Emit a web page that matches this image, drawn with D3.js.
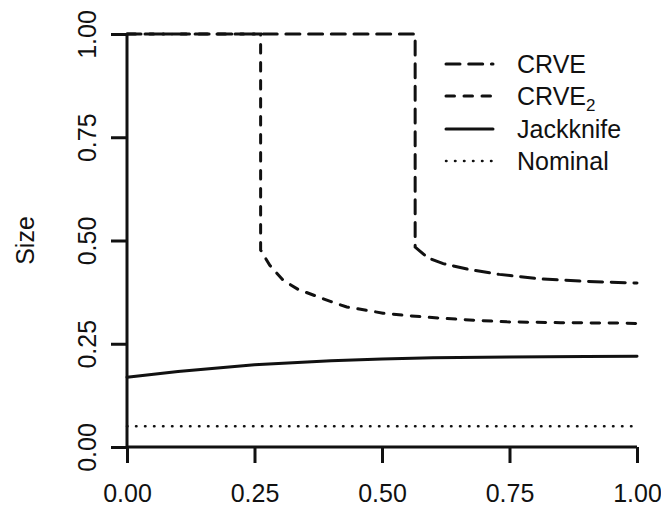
<!DOCTYPE html>
<html>
<head>
<meta charset="utf-8">
<script src="https://cdn.jsdelivr.net/npm/d3@7"></script>
<style>
  body { margin: 0; background: #fff; }
  text { font-family: "Liberation Sans", Arial, sans-serif; fill: #111; }
</style>
</head>
<body>
<div id="chart"></div>
<script>
// Data
var xTicks = [0, 0.25, 0.5, 0.75, 1];
var yTicks = [0, 0.25, 0.5, 0.75, 1];

var crveX = [0, 0.565, 0.565, 0.59, 0.62, 0.67, 0.73, 0.81, 0.9, 1.0];
var crveY = [1, 1, 0.484, 0.458, 0.444, 0.43, 0.418, 0.407, 0.401, 0.397];

var crve2X = [0, 0.262, 0.262, 0.28, 0.306, 0.335, 0.365, 0.4, 0.431, 0.47, 0.502, 0.55, 0.614, 0.68, 0.745, 0.85, 0.967, 1.0];
var crve2Y = [1, 1, 0.477, 0.44, 0.404, 0.382, 0.368, 0.352, 0.339, 0.331, 0.324, 0.318, 0.312, 0.307, 0.303, 0.301, 0.300, 0.299];

var jackX = [0, 0.1, 0.25, 0.4, 0.5, 0.6, 0.75, 0.9, 1.0];
var jackY = [0.169, 0.183, 0.199, 0.209, 0.213, 0.216, 0.218, 0.219, 0.22];

var nomX = [0, 1];
var nomY = [0.05, 0.05];

var seriesNames = ["CRVE", "CRVE2", "Jackknife", "Nominal"];

// Layout
var width = 661, height = 507;
var plot = { left: 127, right: 637, top: 34, bottom: 447 };
var ink = "#111";
var fontSize = "25px";

var svg = d3.select("#chart").append("svg")
    .attr("width", width)
    .attr("height", height);

var x = d3.scaleLinear().domain([0, 1]).range([plot.left, plot.right]);
var y = d3.scaleLinear().domain([0, 1]).range([plot.bottom, plot.top]);

// Axes
var xAxis = d3.axisBottom(x).tickValues(xTicks).tickFormat(d3.format(".2f")).tickSize(16);
var gx = svg.append("g")
    .attr("transform", "translate(0," + plot.bottom + ")")
    .call(xAxis);

var yAxis = d3.axisLeft(y).tickValues(yTicks).tickFormat(d3.format(".2f")).tickSize(16);
var gy = svg.append("g")
    .attr("transform", "translate(" + plot.left + ",0)")
    .call(yAxis);

[gx, gy].forEach(function (g) {
    g.select(".domain").remove();
    g.selectAll(".tick line").attr("stroke", ink).attr("stroke-width", 3);
    g.selectAll(".tick text").attr("fill", ink).style("font-size", fontSize)
        .style("font-family", "'Liberation Sans', Arial, sans-serif");
});

gx.selectAll(".tick text").attr("y", 55).attr("dy", 0);

gy.selectAll(".tick text")
    .attr("x", 0).attr("dy", 0)
    .attr("text-anchor", "middle")
    .attr("transform", "translate(-31,0) rotate(-90)");

// axis lines from data origin
svg.append("line")
    .attr("x1", x(0)).attr("x2", x(1))
    .attr("y1", y(0)).attr("y2", y(0))
    .attr("stroke", ink).attr("stroke-width", 3);
svg.append("line")
    .attr("x1", x(0)).attr("x2", x(0))
    .attr("y1", y(0)).attr("y2", y(1))
    .attr("stroke", ink).attr("stroke-width", 3);

// y axis title
svg.append("text")
    .attr("transform", "translate(34," + y(0.5) + ") rotate(-90)")
    .attr("text-anchor", "middle")
    .style("font-size", fontSize)
    .text("Size");

// Series
var styles = {
    "CRVE": "14,8.7",
    "CRVE2": "8.5,9.5",
    "Jackknife": null,
    "Nominal": "0.5,8.5"
};

function pts(xs, ys) {
    return xs.map(function (d, i) { return [d, ys[i]]; });
}

var series = [
    { name: "CRVE", data: pts(crveX, crveY) },
    { name: "CRVE2", data: pts(crve2X, crve2Y) },
    { name: "Jackknife", data: pts(jackX, jackY) },
    { name: "Nominal", data: pts(nomX, nomY) }
];

var line = d3.line()
    .x(function (d) { return x(d[0]); })
    .y(function (d) { return y(d[1]); });

svg.selectAll("path.series")
    .data(series)
    .enter()
    .append("path")
    .attr("class", "series")
    .attr("d", function (d) { return line(d.data); })
    .attr("fill", "none")
    .attr("stroke", ink)
    .attr("stroke-width", function (d) { return d.name === "Nominal" ? 2.5 : 3; })
    .attr("stroke-linecap", "round")
    .attr("stroke-dasharray", function (d) { return styles[d.name]; });

// Legend
var legend = svg.append("g");
var rowY = [64, 96, 129, 161];
seriesNames.forEach(function (name, i) {
    legend.append("line")
        .attr("x1", 446).attr("x2", 493)
        .attr("y1", rowY[i]).attr("y2", rowY[i])
        .attr("stroke", ink).attr("stroke-width", name === "Nominal" ? 2.5 : 3)
        .attr("stroke-linecap", "round")
        .attr("stroke-dasharray", styles[name]);
    var t = legend.append("text")
        .attr("x", 517).attr("y", rowY[i] + 9)
        .style("font-size", fontSize);
    if (name === "CRVE2") {
        t.append("tspan").text("CRVE");
        t.append("tspan").attr("dy", 6).style("font-size", "17px").text("2");
    } else {
        t.text(name);
    }
});
</script>
</body>
</html>
